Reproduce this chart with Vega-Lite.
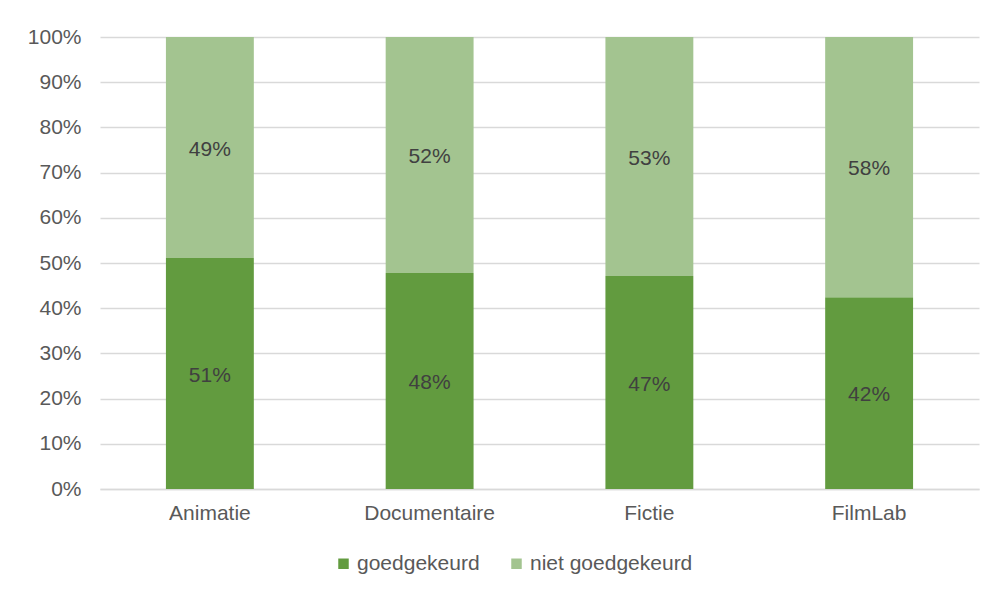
{
  "$schema": "https://vega.github.io/schema/vega-lite/v6.json",
  "width": 879,
  "height": 452,
  "autosize": {"type": "none"},
  "padding": {"left": 100, "top": 37, "right": 20, "bottom": 107},
  "background": "white",
  "config": {
    "view": {"stroke": null},
    "font": "Liberation Sans",
    "axis": {"labelFont": "Liberation Sans", "labelColor": "#595959", "labelFontSize": 21, "title": null, "labelOverlap": false}
  },
  "data": {
    "values": [
      {"categorie": "Animatie", "status": "goedgekeurd", "aandeel": 0.511},
      {"categorie": "Animatie", "status": "niet goedgekeurd", "aandeel": 0.489},
      {"categorie": "Documentaire", "status": "goedgekeurd", "aandeel": 0.478},
      {"categorie": "Documentaire", "status": "niet goedgekeurd", "aandeel": 0.522},
      {"categorie": "Fictie", "status": "goedgekeurd", "aandeel": 0.471},
      {"categorie": "Fictie", "status": "niet goedgekeurd", "aandeel": 0.529},
      {"categorie": "FilmLab", "status": "goedgekeurd", "aandeel": 0.424},
      {"categorie": "FilmLab", "status": "niet goedgekeurd", "aandeel": 0.576}
    ]
  },
  "transform": [
    {"stack": "aandeel", "groupby": ["categorie"], "sort": [{"field": "status", "order": "ascending"}], "as": ["v0", "v1"]},
    {"calculate": "(datum.v0 + datum.v1) / 2", "as": "mid"}
  ],
  "encoding": {
    "x": {
      "field": "categorie",
      "type": "nominal",
      "sort": null,
      "scale": {"paddingInner": 0.6, "paddingOuter": 0.3},
      "axis": {"labelAngle": 0, "domain": true, "domainColor": "#d9d9d9", "domainWidth": 1.5, "ticks": false, "labelPadding": 13, "grid": false}
    }
  },
  "layer": [
    {
      "mark": {"type": "bar"},
      "encoding": {
        "y": {
          "field": "v0",
          "type": "quantitative",
          "scale": {"domain": [0, 1]},
          "axis": {"format": ".0%", "values": [0,0.1,0.2,0.3,0.4,0.5,0.6,0.7,0.8,0.9,1], "domain": false, "ticks": false, "grid": true, "gridColor": "#d9d9d9", "gridWidth": 1.5, "labelPadding": 19}
        },
        "y2": {"field": "v1"},
        "color": {
          "field": "status",
          "type": "nominal",
          "scale": {"domain": ["goedgekeurd", "niet goedgekeurd"], "range": ["#629B3F", "#A3C490"]},
          "legend": {
            "title": null,
            "orient": "none",
            "direction": "horizontal",
            "legendX": 233,
            "legendY": 516,
            "symbolType": "square",
            "symbolSize": 110,
            "symbolStrokeWidth": 0,
            "labelFont": "Liberation Sans",
            "labelFontSize": 21,
            "labelColor": "#595959",
            "labelOffset": 3,
            "labelLimit": 400,
            "columnPadding": 26
          }
        }
      }
    },
    {
      "mark": {"type": "text", "fontSize": 21, "color": "#404040", "font": "Liberation Sans", "baseline": "middle", "dy": 2},
      "encoding": {
        "y": {"field": "mid", "type": "quantitative"},
        "text": {"field": "aandeel", "type": "quantitative", "format": ".0%"}
      }
    }
  ]
}
